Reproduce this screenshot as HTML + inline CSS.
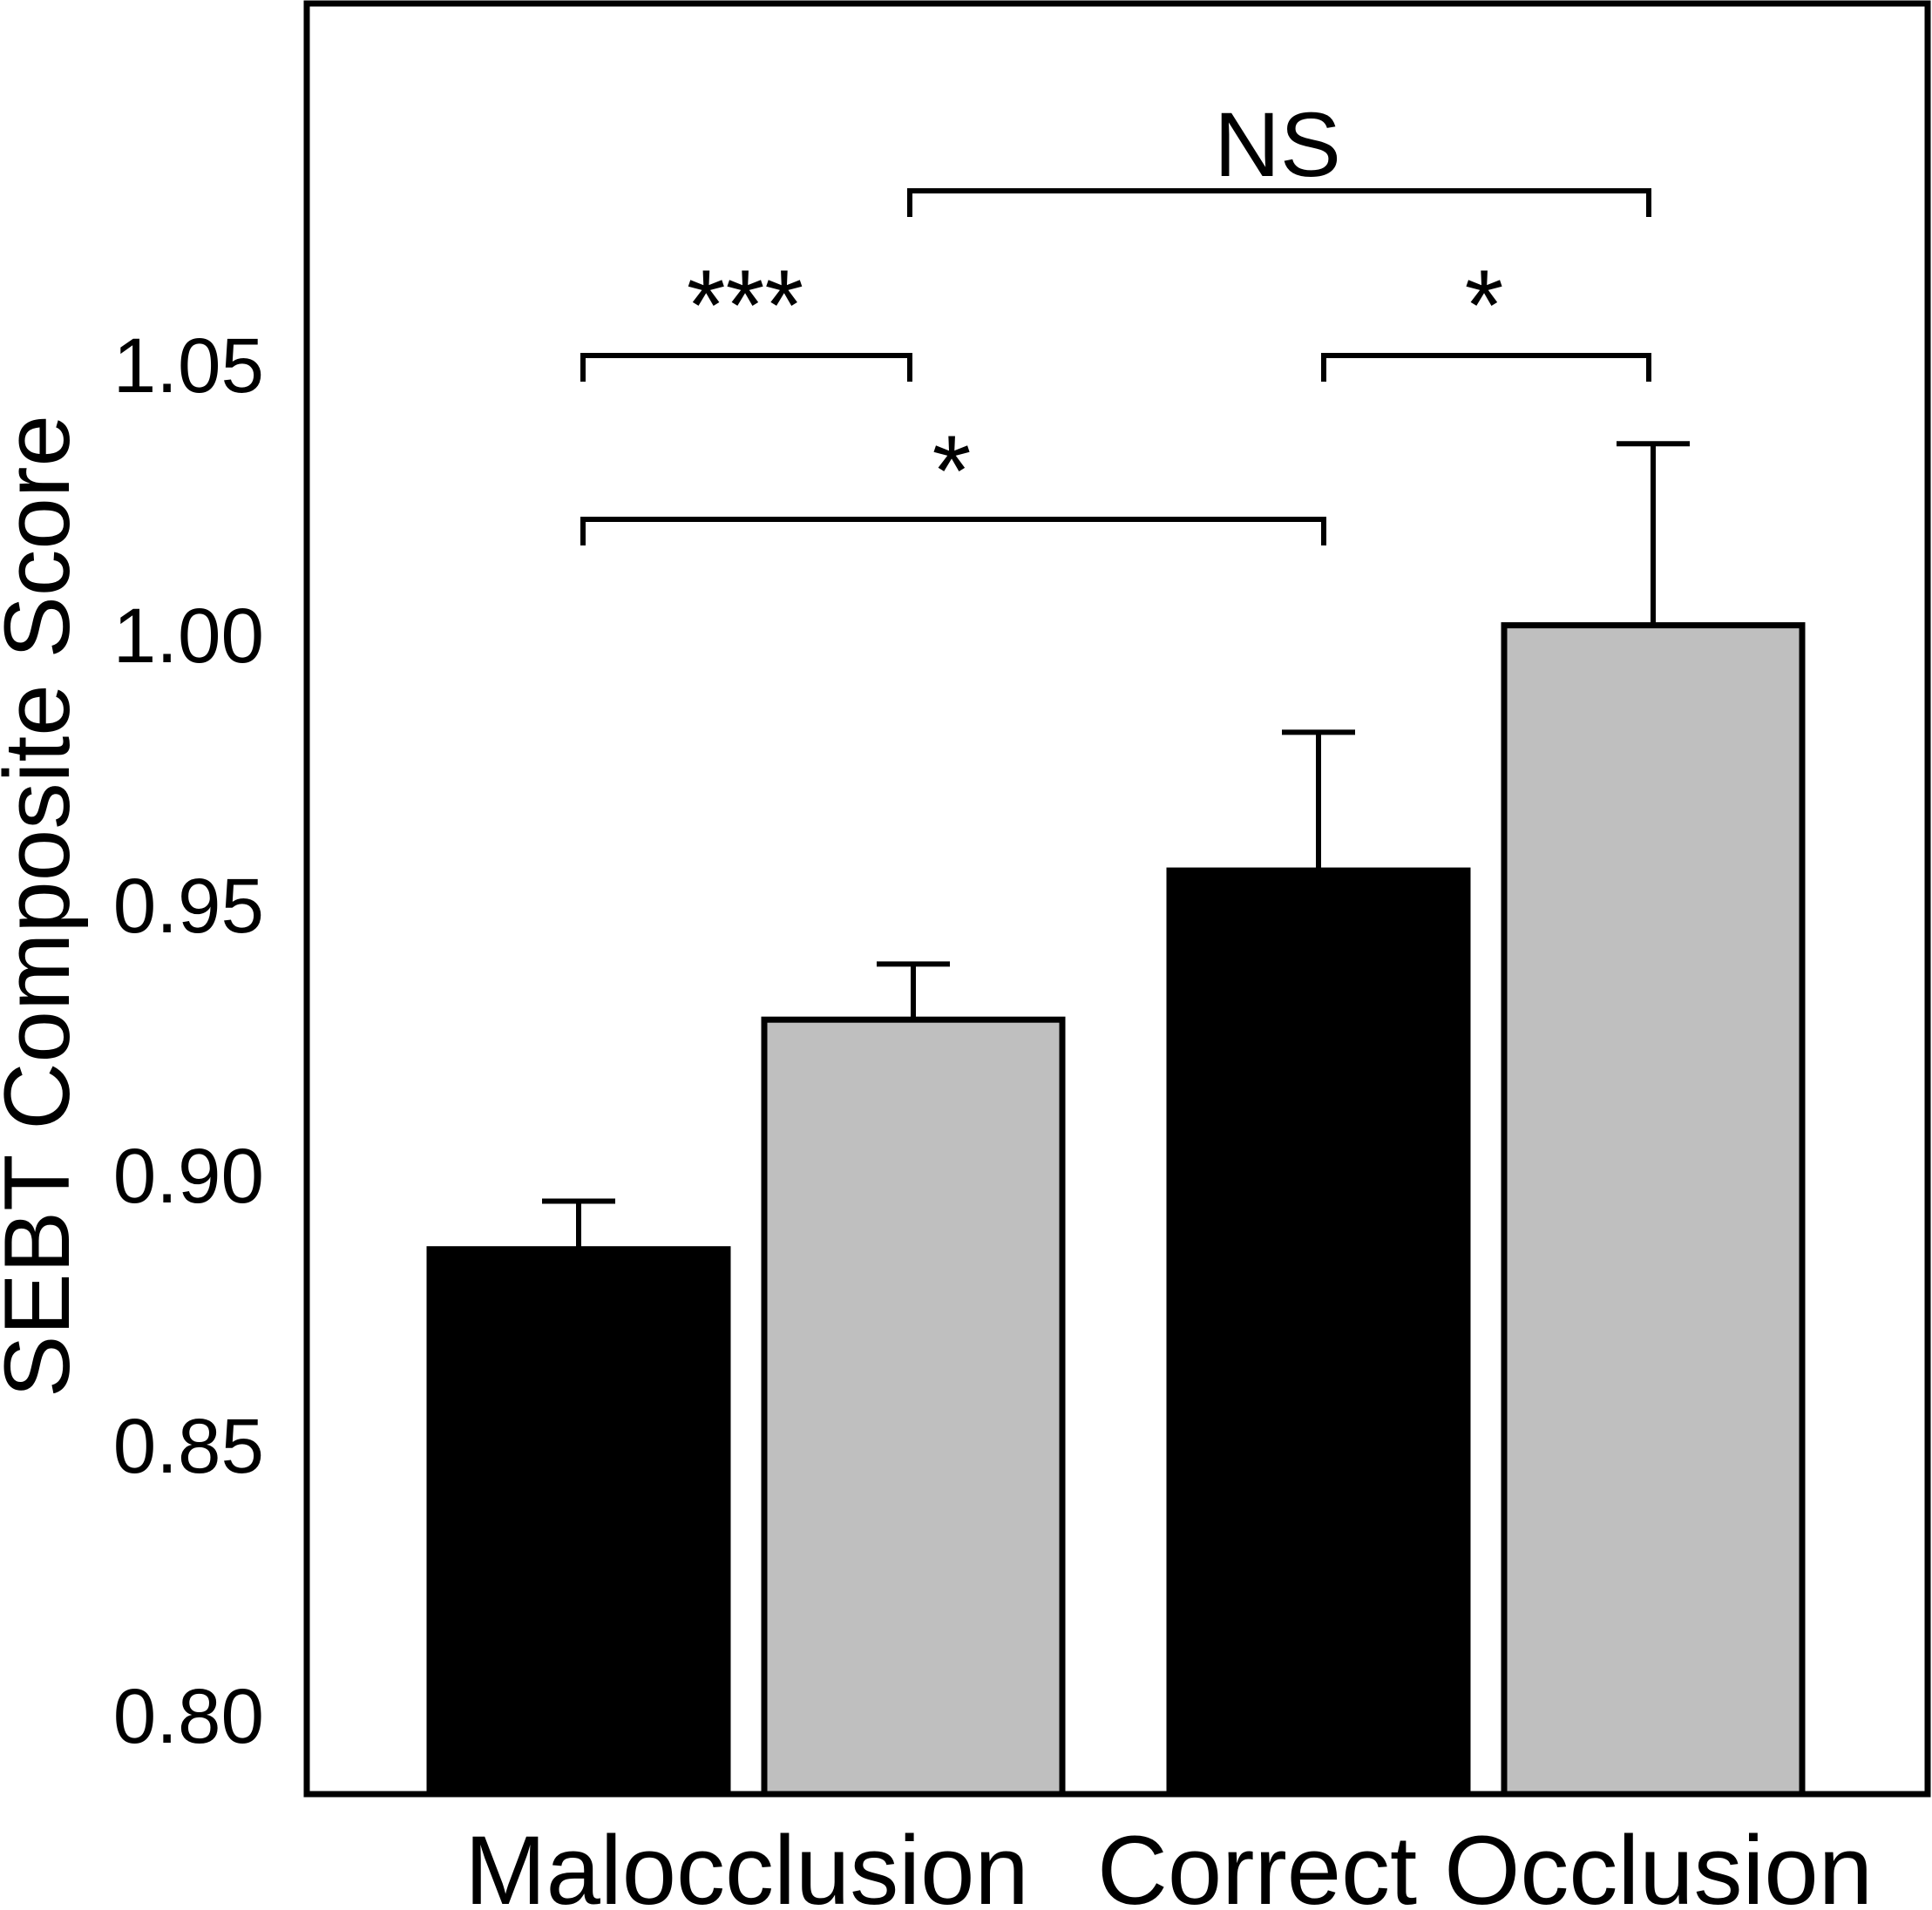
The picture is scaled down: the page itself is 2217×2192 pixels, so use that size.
<!DOCTYPE html>
<html><head><meta charset="utf-8"><style>
html,body{margin:0;padding:0;background:#fff;}
svg{display:block;font-family:"Liberation Sans",Arial,sans-serif;}
</style></head><body>
<svg id="chart" width="2217" height="2192" viewBox="0 0 2217 2192" xmlns="http://www.w3.org/2000/svg">
<rect x="0" y="0" width="2217" height="2192" fill="#fff"/>
<rect x="352" y="4" width="1860" height="2055" fill="none" stroke="#000" stroke-width="7"/>
<g id="ticks"></g>
<g id="bars"></g>
<g id="sig"></g>
<text x="42" y="1040" font-size="107" text-anchor="middle" dominant-baseline="central" transform="rotate(-90 42 1040)">SEBT Composite Score</text>
</svg>
<script>
const categories = ["Malocclusion", "Correct Occlusion"];
const blackValues = [0.8865, 0.9566];
const grayValues = [0.929, 1.002];
const blackErr = [0.0089, 0.0256];
const grayErr = [0.0103, 0.0336];
const tickValues = [0.80, 0.85, 0.90, 0.95, 1.00, 1.05];
const tickLabels = ["0.80", "0.85", "0.90", "0.95", "1.00", "1.05"];

const NS = "http://www.w3.org/2000/svg";
const y = v => 1970 - (v - 0.8) / 0.05 * 310;
const baseY = 2059;
const groupLeft = [493, 1342];
const barW = 342, gap = 42;
function mk(tag, attrs, parent) {
  const el = document.createElementNS(NS, tag);
  for (const k in attrs) el.setAttribute(k, attrs[k]);
  parent.appendChild(el);
  return el;
}
const tg = document.getElementById('ticks');
tickValues.forEach((v, i) => {
  const t = mk('text', {x: 303, y: y(v) + 30, 'font-size': 89, 'text-anchor': 'end'}, tg);
  t.textContent = tickLabels[i];
  
  
});
const bg = document.getElementById('bars');
categories.forEach((c, i) => {
  const bx = groupLeft[i];
  const gx = bx + barW + gap;
  const series = [
    {x: bx, v: blackValues[i], e: blackErr[i], fill: '#000', name: 'bar-black-' + i},
    {x: gx, v: grayValues[i], e: grayErr[i], fill: '#bfbfbf', name: 'bar-gray-' + i}
  ];
  series.forEach(s => {
    const top = y(s.v);
    const cx = s.x + barW / 2;
    const eb = mk('path', {d: `M${cx} ${top} V${y(s.v + s.e)} M${cx - 42} ${y(s.v + s.e)} H${cx + 42}`, stroke: '#000', 'stroke-width': 6, fill: 'none'}, bg);
    
    
    const r = mk('rect', {x: s.x, y: top, width: barW, height: baseY - top, fill: s.fill, stroke: '#000', 'stroke-width': 7}, bg);
    
    
  });
  const lbl = mk('text', {x: [857, 1704][i], y: 2185, 'font-size': 112, 'text-anchor': 'middle'}, bg);
  lbl.textContent = c;
  
  
});
const sg = document.getElementById('sig');
const brackets = [
  {x1: 1044, x2: 1892, y: 219, label: 'NS', tx: 1466, ty: 202, fs: 105},
  {x1: 669, x2: 1044, y: 408, label: '***', tx: 855, ty: 390, fs: 115},
  {x1: 1519, x2: 1892, y: 408, label: '*', tx: 1703, ty: 390, fs: 115},
  {x1: 669, x2: 1519, y: 596, label: '*', tx: 1092, ty: 580, fs: 115}
];
brackets.forEach(b => {
  const p = mk('path', {d: `M${b.x1} ${b.y + 30} V${b.y} H${b.x2} V${b.y + 30}`, stroke: '#000', 'stroke-width': 6, fill: 'none'}, sg);
  
  
  const t = mk('text', {x: b.tx, y: b.ty, 'font-size': b.fs, 'text-anchor': 'middle'}, sg);
  t.textContent = b.label;
  
  
});
</script>
</body></html>
